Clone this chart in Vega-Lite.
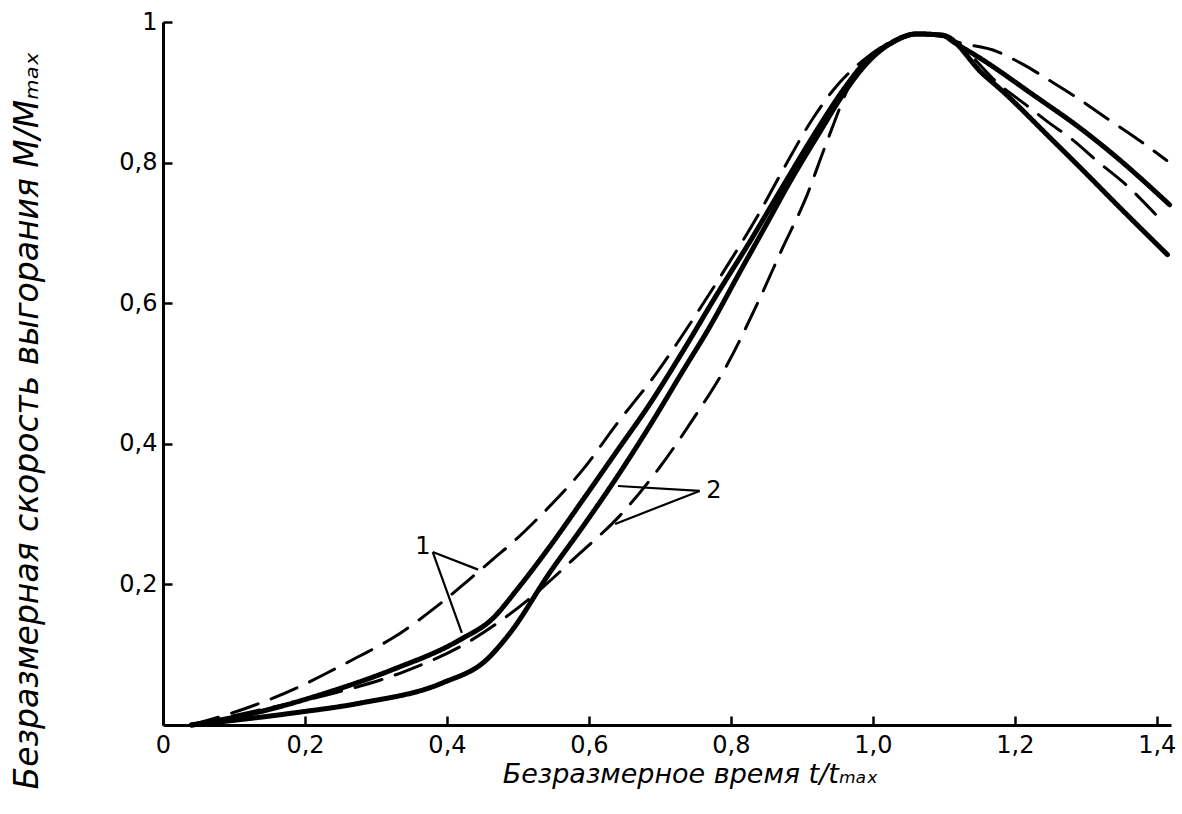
{
  "$schema": "https://vega.github.io/schema/vega-lite/v6.json",
  "autosize": {"type": "none"},
  "padding": {"left": 163, "top": 22, "right": 11, "bottom": 89},
  "width": 1008,
  "height": 703,
  "background": "white",
  "config": {"view": {"stroke": null}},
  "encoding": {
    "x": {
      "field": "x", "type": "quantitative",
      "scale": {"domain": [0, 1.42], "nice": false, "zero": false},
      "axis": {
        "title": "Безразмерное время t/tₘₐₓ",
        "values": [0, 0.2, 0.4, 0.6, 0.8, 1.0, 1.2, 1.4],
        "labelExpr": "datum.value == 0 ? '0' : replace(format(datum.value, '.1f'), '.', ',')",
        "grid": false, "domainColor": "black", "domainWidth": 3,
        "tickColor": "black", "tickWidth": 2.5, "tickSize": -9,
        "labelPadding": 17, "labelFont": "DejaVu Sans", "labelFontSize": 24, "labelColor": "black",
        "labelFlush": false, "labelOverlap": false,
        "titleFont": "DejaVu Sans", "titleFontStyle": "italic", "titleFontWeight": "normal",
        "titleFontSize": 27, "titleColor": "black", "titleX": 527, "titleY": 36, "titleBaseline": "top"
      }
    },
    "y": {
      "field": "y", "type": "quantitative",
      "scale": {"domain": [0, 1], "nice": false, "zero": false},
      "axis": {
        "title": "Безразмерная скорость выгорания  M/Mₘₐₓ",
        "values": [0.2, 0.4, 0.6, 0.8, 1.0],
        "labelExpr": "datum.value == 1 ? '1' : replace(format(datum.value, '.1f'), '.', ',')",
        "grid": false, "domainColor": "black", "domainWidth": 3,
        "tickColor": "black", "tickWidth": 2.5, "tickSize": -9,
        "labelPadding": 15, "labelFont": "DejaVu Sans", "labelFontSize": 24, "labelColor": "black",
        "labelFlush": false, "labelOverlap": false,
        "titleFont": "DejaVu Sans", "titleFontStyle": "italic", "titleFontWeight": "normal",
        "titleFontSize": 33, "titleColor": "black", "titleAngle": 270,
        "titleX": -119, "titleY": 398, "titleBaseline": "bottom"
      }
    }
  },
  "layer": [
    {
      "data": {"values": [
        {"series": "s1", "style": "solid", "x": 0.04, "y": 0},
        {"series": "s1", "style": "solid", "x": 0.137, "y": 0.019},
        {"series": "s1", "style": "solid", "x": 0.231, "y": 0.046},
        {"series": "s1", "style": "solid", "x": 0.324, "y": 0.079},
        {"series": "s1", "style": "solid", "x": 0.418, "y": 0.121},
        {"series": "s1", "style": "solid", "x": 0.465, "y": 0.152},
        {"series": "s1", "style": "solid", "x": 0.499, "y": 0.193},
        {"series": "s1", "style": "solid", "x": 0.545, "y": 0.254},
        {"series": "s1", "style": "solid", "x": 0.592, "y": 0.321},
        {"series": "s1", "style": "solid", "x": 0.639, "y": 0.389},
        {"series": "s1", "style": "solid", "x": 0.686, "y": 0.457},
        {"series": "s1", "style": "solid", "x": 0.732, "y": 0.531},
        {"series": "s1", "style": "solid", "x": 0.78, "y": 0.612},
        {"series": "s1", "style": "solid", "x": 0.827, "y": 0.688},
        {"series": "s1", "style": "solid", "x": 0.873, "y": 0.766},
        {"series": "s1", "style": "solid", "x": 0.921, "y": 0.846},
        {"series": "s1", "style": "solid", "x": 0.958, "y": 0.903},
        {"series": "s1", "style": "solid", "x": 0.992, "y": 0.946},
        {"series": "s1", "style": "solid", "x": 1.024, "y": 0.969},
        {"series": "s1", "style": "solid", "x": 1.062, "y": 0.983},
        {"series": "s1", "style": "solid", "x": 1.099, "y": 0.981},
        {"series": "s1", "style": "solid", "x": 1.155, "y": 0.926},
        {"series": "s1", "style": "solid", "x": 1.179, "y": 0.905},
        {"series": "s1", "style": "solid", "x": 1.249, "y": 0.836},
        {"series": "s1", "style": "solid", "x": 1.296, "y": 0.789},
        {"series": "s1", "style": "solid", "x": 1.344, "y": 0.74},
        {"series": "s1", "style": "solid", "x": 1.415, "y": 0.669},

        {"series": "s2", "style": "solid", "x": 0.04, "y": 0},
        {"series": "s2", "style": "solid", "x": 0.183, "y": 0.017},
        {"series": "s2", "style": "solid", "x": 0.277, "y": 0.031},
        {"series": "s2", "style": "solid", "x": 0.394, "y": 0.06},
        {"series": "s2", "style": "solid", "x": 0.456, "y": 0.093},
        {"series": "s2", "style": "solid", "x": 0.489, "y": 0.131},
        {"series": "s2", "style": "solid", "x": 0.545, "y": 0.217},
        {"series": "s2", "style": "solid", "x": 0.592, "y": 0.283},
        {"series": "s2", "style": "solid", "x": 0.639, "y": 0.352},
        {"series": "s2", "style": "solid", "x": 0.686, "y": 0.426},
        {"series": "s2", "style": "solid", "x": 0.732, "y": 0.503},
        {"series": "s2", "style": "solid", "x": 0.77, "y": 0.566},
        {"series": "s2", "style": "solid", "x": 0.813, "y": 0.645},
        {"series": "s2", "style": "solid", "x": 0.85, "y": 0.712},
        {"series": "s2", "style": "solid", "x": 0.88, "y": 0.767},
        {"series": "s2", "style": "solid", "x": 0.925, "y": 0.843},
        {"series": "s2", "style": "solid", "x": 0.96, "y": 0.9},
        {"series": "s2", "style": "solid", "x": 0.994, "y": 0.944},
        {"series": "s2", "style": "solid", "x": 1.024, "y": 0.969},
        {"series": "s2", "style": "solid", "x": 1.062, "y": 0.983},
        {"series": "s2", "style": "solid", "x": 1.099, "y": 0.981},
        {"series": "s2", "style": "solid", "x": 1.113, "y": 0.972},
        {"series": "s2", "style": "solid", "x": 1.155, "y": 0.946},
        {"series": "s2", "style": "solid", "x": 1.225, "y": 0.897},
        {"series": "s2", "style": "solid", "x": 1.296, "y": 0.846},
        {"series": "s2", "style": "solid", "x": 1.344, "y": 0.807},
        {"series": "s2", "style": "solid", "x": 1.418, "y": 0.74},

        {"series": "d1", "style": "dashed", "x": 0.04, "y": 0},
        {"series": "d1", "style": "dashed", "x": 0.123, "y": 0.026},
        {"series": "d1", "style": "dashed", "x": 0.189, "y": 0.053},
        {"series": "d1", "style": "dashed", "x": 0.231, "y": 0.074},
        {"series": "d1", "style": "dashed", "x": 0.273, "y": 0.096},
        {"series": "d1", "style": "dashed", "x": 0.324, "y": 0.124},
        {"series": "d1", "style": "dashed", "x": 0.386, "y": 0.169},
        {"series": "d1", "style": "dashed", "x": 0.428, "y": 0.204},
        {"series": "d1", "style": "dashed", "x": 0.465, "y": 0.236},
        {"series": "d1", "style": "dashed", "x": 0.493, "y": 0.26},
        {"series": "d1", "style": "dashed", "x": 0.531, "y": 0.297},
        {"series": "d1", "style": "dashed", "x": 0.592, "y": 0.364},
        {"series": "d1", "style": "dashed", "x": 0.639, "y": 0.428},
        {"series": "d1", "style": "dashed", "x": 0.697, "y": 0.503},
        {"series": "d1", "style": "dashed", "x": 0.738, "y": 0.564},
        {"series": "d1", "style": "dashed", "x": 0.794, "y": 0.652},
        {"series": "d1", "style": "dashed", "x": 0.837, "y": 0.723},
        {"series": "d1", "style": "dashed", "x": 0.873, "y": 0.789},
        {"series": "d1", "style": "dashed", "x": 0.915, "y": 0.862},
        {"series": "d1", "style": "dashed", "x": 0.944, "y": 0.903},
        {"series": "d1", "style": "dashed", "x": 0.992, "y": 0.95},
        {"series": "d1", "style": "dashed", "x": 1.024, "y": 0.971},
        {"series": "d1", "style": "dashed", "x": 1.062, "y": 0.983},
        {"series": "d1", "style": "dashed", "x": 1.1, "y": 0.98},
        {"series": "d1", "style": "dashed", "x": 1.113, "y": 0.974},
        {"series": "d1", "style": "dashed", "x": 1.175, "y": 0.958},
        {"series": "d1", "style": "dashed", "x": 1.211, "y": 0.94},
        {"series": "d1", "style": "dashed", "x": 1.252, "y": 0.915},
        {"series": "d1", "style": "dashed", "x": 1.285, "y": 0.894},
        {"series": "d1", "style": "dashed", "x": 1.331, "y": 0.862},
        {"series": "d1", "style": "dashed", "x": 1.372, "y": 0.834},
        {"series": "d1", "style": "dashed", "x": 1.414, "y": 0.803},

        {"series": "d2", "style": "dashed", "x": 0.04, "y": 0},
        {"series": "d2", "style": "dashed", "x": 0.13, "y": 0.02},
        {"series": "d2", "style": "dashed", "x": 0.24, "y": 0.045},
        {"series": "d2", "style": "dashed", "x": 0.34, "y": 0.076},
        {"series": "d2", "style": "dashed", "x": 0.43, "y": 0.118},
        {"series": "d2", "style": "dashed", "x": 0.513, "y": 0.177},
        {"series": "d2", "style": "dashed", "x": 0.587, "y": 0.244},
        {"series": "d2", "style": "dashed", "x": 0.641, "y": 0.295},
        {"series": "d2", "style": "dashed", "x": 0.7, "y": 0.367},
        {"series": "d2", "style": "dashed", "x": 0.746, "y": 0.434},
        {"series": "d2", "style": "dashed", "x": 0.796, "y": 0.515},
        {"series": "d2", "style": "dashed", "x": 0.838, "y": 0.601},
        {"series": "d2", "style": "dashed", "x": 0.873, "y": 0.679},
        {"series": "d2", "style": "dashed", "x": 0.907, "y": 0.753},
        {"series": "d2", "style": "dashed", "x": 0.932, "y": 0.821},
        {"series": "d2", "style": "dashed", "x": 0.975, "y": 0.925},
        {"series": "d2", "style": "dashed", "x": 1.01, "y": 0.962},
        {"series": "d2", "style": "dashed", "x": 1.062, "y": 0.983},
        {"series": "d2", "style": "dashed", "x": 1.1, "y": 0.979},
        {"series": "d2", "style": "dashed", "x": 1.183, "y": 0.907},
        {"series": "d2", "style": "dashed", "x": 1.217, "y": 0.881},
        {"series": "d2", "style": "dashed", "x": 1.245, "y": 0.859},
        {"series": "d2", "style": "dashed", "x": 1.282, "y": 0.832},
        {"series": "d2", "style": "dashed", "x": 1.315, "y": 0.803},
        {"series": "d2", "style": "dashed", "x": 1.355, "y": 0.77},
        {"series": "d2", "style": "dashed", "x": 1.407, "y": 0.717}
      ]},
      "mark": {"type": "line", "interpolate": "monotone", "color": "black", "strokeCap": "round"},
      "encoding": {
        "detail": {"field": "series", "type": "nominal"},
        "strokeDash": {"field": "style", "type": "nominal",
          "scale": {"domain": ["solid", "dashed"], "range": [[1, 0], [28, 14]]}, "legend": null},
        "strokeWidth": {"field": "style", "type": "nominal",
          "scale": {"domain": ["solid", "dashed"], "range": [5, 3]}, "legend": null}
      }
    },
    {
      "data": {"values": [
        {"x": 0.38, "y": 0.246, "x2": 0.444, "y2": 0.221},
        {"x": 0.38, "y": 0.246, "x2": 0.421, "y2": 0.131},
        {"x": 0.756, "y": 0.333, "x2": 0.641, "y2": 0.34},
        {"x": 0.756, "y": 0.333, "x2": 0.637, "y2": 0.286}
      ]},
      "mark": {"type": "rule", "color": "black", "strokeWidth": 2.2},
      "encoding": {
        "x2": {"field": "x2"},
        "y2": {"field": "y2"}
      }
    },
    {
      "data": {"values": [
        {"x": 0.366, "y": 0.253, "label": "1"},
        {"x": 0.776, "y": 0.333, "label": "2"}
      ]},
      "mark": {"type": "text", "font": "DejaVu Sans", "fontSize": 24, "color": "black", "align": "center", "baseline": "middle"},
      "encoding": {"text": {"field": "label"}}
    }
  ]
}
